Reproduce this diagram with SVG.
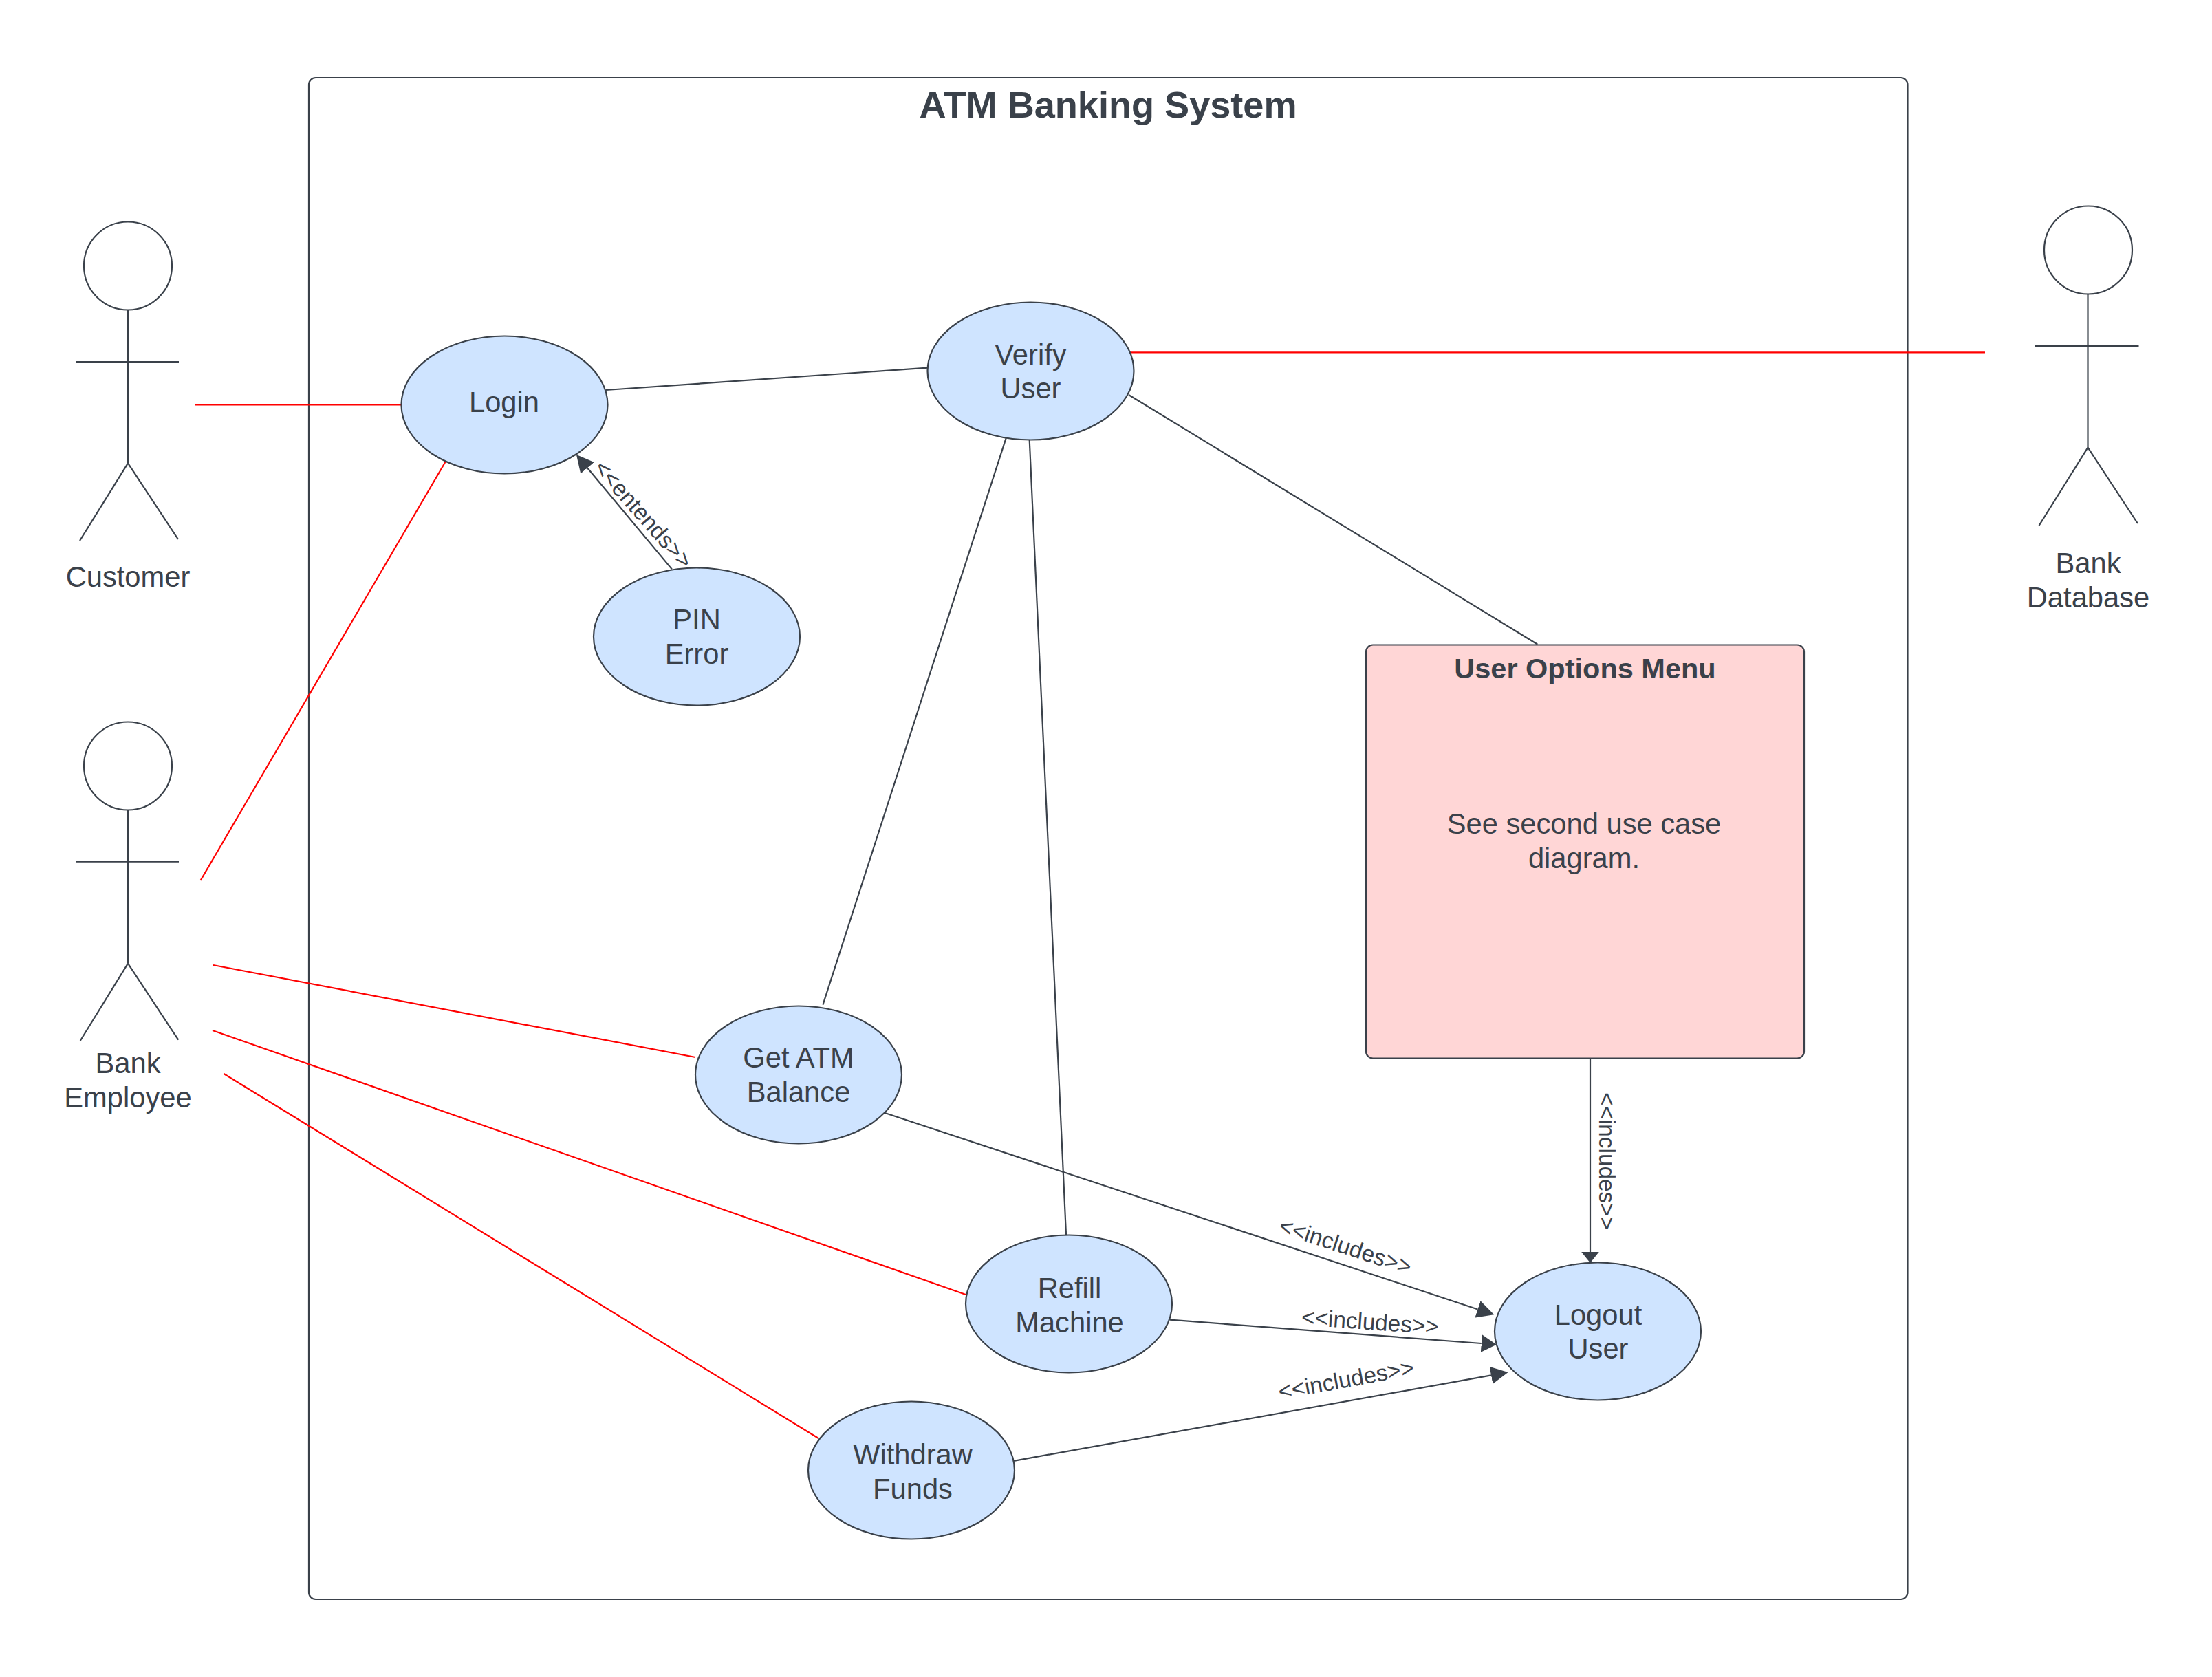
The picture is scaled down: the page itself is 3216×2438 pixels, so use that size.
<svg xmlns="http://www.w3.org/2000/svg" width="3216" height="2438" viewBox="0 0 3216 2438">
<defs>
<style>
text{font-family:"Liberation Sans",Arial,sans-serif;fill:#3a414a;text-anchor:middle}
.t{font-size:41.7px}
.b{font-size:41.5px;font-weight:700}
.h{font-size:54.1px;font-weight:700}
.l{font-size:33.3px}
.uc{fill:#cfe4ff;stroke:#3a414a;stroke-width:2.2}
.a line,.a circle{fill:none;stroke:#3a414a;stroke-width:2.2}
.a circle{fill:#fff}
.k{stroke:#3a414a;stroke-width:2.2;fill:none}
.r{stroke:#ff0000;stroke-width:2.2;fill:none}
.ah{marker-end:url(#m25)}
</style>
<marker id="m25" markerUnits="userSpaceOnUse" viewBox="0 0 25 26" refX="0" refY="13" markerWidth="25" markerHeight="26" orient="auto"><path d="M0 0.2L25 13L0 25.8Z" fill="#3a414a"/></marker>
<marker id="m22" markerUnits="userSpaceOnUse" viewBox="0 0 22 26" refX="0" refY="13" markerWidth="22" markerHeight="26" orient="auto"><path d="M0 0.2L22 13L0 25.8Z" fill="#3a414a"/></marker>
<marker id="m16" markerUnits="userSpaceOnUse" viewBox="0 0 16 26" refX="0" refY="13" markerWidth="16" markerHeight="26" orient="auto"><path d="M0 0.2L16 13L0 25.8Z" fill="#3a414a"/></marker>
</defs>
<rect width="3216" height="2438" fill="#fff"/>
<g id="system">
<rect x="449" y="113" width="2324.5" height="2212" rx="10" fill="#fff" stroke="#3a414a" stroke-width="2.2"/>
<text class="h" x="1611" y="171">ATM Banking System</text>
</g>
<g id="connectors">
<line class="r" x1="284" y1="588.4" x2="584" y2="588.4"/>
<line class="r" x1="291.5" y1="1280" x2="647.5" y2="671.5"/>
<line class="r" x1="310" y1="1403" x2="1011" y2="1537"/>
<line class="r" x1="309" y1="1498" x2="1404" y2="1882"/>
<line class="r" x1="325" y1="1560.7" x2="1190" y2="2091"/>
<line class="r" x1="1642" y1="512.3" x2="2886" y2="512.3"/>
<line class="k" x1="880.6" y1="567" x2="1349" y2="534.7"/>
<line class="k" x1="1462.7" y1="636.8" x2="1196.4" y2="1460.7"/>
<line class="k" x1="1496.7" y1="639.3" x2="1550" y2="1795"/>
<line class="k" x1="1641" y1="574" x2="2235.4" y2="936.7"/>
<line class="k ah" x1="976.8" y1="827.4" x2="854" y2="680.3"/>
<line class="k ah" x1="1286.7" y1="1618" x2="2148.5" y2="1903.5"/>
<line class="k" x1="1701" y1="1918.7" x2="2153.8" y2="1953" marker-end="url(#m22)"/>
<line class="k ah" x1="1474" y1="2123.8" x2="2168" y2="1999.4"/>
<line class="k" x1="2312" y1="1539" x2="2312" y2="1820" marker-end="url(#m16)"/>
<text class="l" transform="translate(935 748) rotate(48.5)" y="11">&lt;&lt;entends&gt;&gt;</text>
<text class="l" transform="translate(1956 1812) rotate(18.1)" y="11">&lt;&lt;includes&gt;&gt;</text>
<text class="l" transform="translate(1992 1922) rotate(4)" y="11">&lt;&lt;includes&gt;&gt;</text>
<text class="l" transform="translate(1957 2006) rotate(-10.4)" y="11">&lt;&lt;includes&gt;&gt;</text>
<text class="l" transform="translate(2336 1688) rotate(90)" y="11">&lt;&lt;includes&gt;&gt;</text>
</g>
<g id="customer" class="a">
<circle cx="186" cy="386.5" r="64"/>
<line x1="186" y1="450.5" x2="186" y2="673.4"/>
<line x1="110" y1="526" x2="260" y2="526"/>
<line x1="186" y1="673.4" x2="116" y2="786"/>
<line x1="186" y1="673.4" x2="259" y2="784"/>
<text class="t" x="186" y="853">Customer</text>
</g>
<g id="bank-employee" class="a">
<circle cx="186" cy="1113.5" r="64"/>
<line x1="186" y1="1177.5" x2="186" y2="1400.7"/>
<line x1="110" y1="1252.6" x2="260" y2="1252.6"/>
<line x1="186" y1="1400.7" x2="116.7" y2="1513"/>
<line x1="186" y1="1400.7" x2="259.3" y2="1511.7"/>
<text class="t" x="186" y="1560">Bank</text>
<text class="t" x="186" y="1609.5">Employee</text>
</g>
<g id="bank-database" class="a">
<circle cx="3036" cy="363.5" r="64"/>
<line x1="3035.5" y1="427.5" x2="3035.5" y2="650.6"/>
<line x1="2959" y1="503" x2="3109.5" y2="503"/>
<line x1="3035.5" y1="650.6" x2="2964.5" y2="764"/>
<line x1="3035.5" y1="650.6" x2="3108" y2="761"/>
<text class="t" x="3036" y="833">Bank</text>
<text class="t" x="3036" y="882.5">Database</text>
</g>
<g id="login"><ellipse class="uc" cx="733.5" cy="588.5" rx="150" ry="100"/><text class="t" x="733" y="598.5">Login</text></g>
<g id="verify-user"><ellipse class="uc" cx="1498.5" cy="539.5" rx="150" ry="100"/><text class="t" x="1498.5" y="529.5">Verify</text><text class="t" x="1498.5" y="578.5">User</text></g>
<g id="pin-error"><ellipse class="uc" cx="1013" cy="925.5" rx="150" ry="100"/><text class="t" x="1013" y="915">PIN</text><text class="t" x="1013" y="965">Error</text></g>
<g id="get-atm-balance"><ellipse class="uc" cx="1161" cy="1562.5" rx="150" ry="100"/><text class="t" x="1161" y="1552">Get ATM</text><text class="t" x="1161" y="1602">Balance</text></g>
<g id="refill-machine"><ellipse class="uc" cx="1554" cy="1895.5" rx="150" ry="100"/><text class="t" x="1555" y="1887">Refill</text><text class="t" x="1555" y="1937">Machine</text></g>
<g id="withdraw-funds"><ellipse class="uc" cx="1325" cy="2137.5" rx="150" ry="100"/><text class="t" x="1327" y="2128.5">Withdraw</text><text class="t" x="1327" y="2178.5">Funds</text></g>
<g id="logout-user"><ellipse class="uc" cx="2323" cy="1935.5" rx="150" ry="100"/><text class="t" x="2323.5" y="1925.5">Logout</text><text class="t" x="2323.5" y="1975">User</text></g>
<g id="user-options-menu">
<rect x="1986" y="937.5" width="637" height="601" rx="10" fill="#ffd6d6" stroke="#3a414a" stroke-width="2.2"/>
<text class="b" x="2304.5" y="986">User Options Menu</text>
<text class="t" x="2303" y="1211.5">See second use case</text>
<text class="t" x="2303" y="1261.5">diagram.</text>
</g>
</svg>
